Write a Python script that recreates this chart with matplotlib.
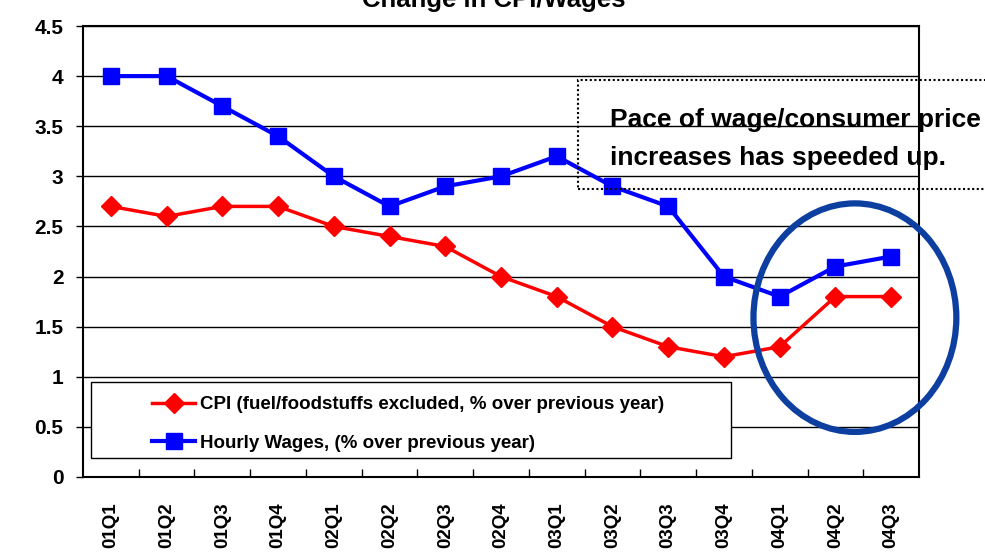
import matplotlib
matplotlib.use("Agg")
import matplotlib.pyplot as plt
from matplotlib.patches import Ellipse, Rectangle
import numpy as np

quarters = ["01Q1", "01Q2", "01Q3", "01Q4", "02Q1", "02Q2", "02Q3", "02Q4",
            "03Q1", "03Q2", "03Q3", "03Q4", "04Q1", "04Q2", "04Q3"]
cpi = [2.7, 2.6, 2.7, 2.7, 2.5, 2.4, 2.3, 2.0, 1.8, 1.5, 1.3, 1.2, 1.3, 1.8, 1.8]
wages = [4.0, 4.0, 3.7, 3.4, 3.0, 2.7, 2.9, 3.0, 3.2, 2.9, 2.7, 2.0, 1.8, 2.1, 2.2]
y_ticks = [0, 0.5, 1, 1.5, 2, 2.5, 3, 3.5, 4, 4.5]
y_labels = ["0", "0.5", "1", "1.5", "2", "2.5", "3", "3.5", "4", "4.5"]

fam = ["Liberation Sans", "DejaVu Sans"]

fig = plt.figure(figsize=(9.85, 5.52), dpi=100)
ax = fig.add_axes([83 / 985, 1 - 477 / 552, 836 / 985, 451 / 552])

x = np.arange(len(quarters))
l1, = ax.plot(x, cpi, color="#FF0000", lw=2.5, marker="D", ms=10,
              label="CPI (fuel/foodstuffs excluded, % over previous year)", zorder=4)
l2, = ax.plot(x, wages, color="#0000FF", lw=3, marker="s", ms=12,
              label="Hourly Wages, (% over previous year)", zorder=4)

ax.set_xlim(-0.5, len(quarters) - 0.5)
ax.set_ylim(0, 4.5)
ax.set_yticks(y_ticks)
ax.set_yticklabels(y_labels, fontfamily=fam, fontweight="bold", fontsize=15)
ax.yaxis.grid(True, color="black", lw=1)
ax.set_axisbelow(True)

ax.set_xticks(x)
ax.set_xticklabels(quarters, rotation=90, fontfamily=fam, fontweight="bold", fontsize=13.5)
ax.set_xticks(np.arange(0.5, len(quarters) - 1, 1), minor=True)
ax.tick_params(axis="x", which="major", length=0, pad=18)
ax.tick_params(axis="x", which="minor", direction="in", length=6, width=1)
ax.tick_params(axis="y", direction="out", length=5, width=1, pad=9)
for s in ax.spines.values():
    s.set_linewidth(1.5)
    s.set_color("black")

# legend box
ax.add_patch(Rectangle((8 / 836, 19 / 451), 640 / 836, 76 / 451, transform=ax.transAxes,
                       facecolor="white", edgecolor="black", lw=1, zorder=5))
leg = ax.legend(handles=[l1, l2], loc="upper left", bbox_to_anchor=(56 / 836, 94 / 451),
                frameon=False, handlelength=2.3, handletextpad=0.25, labelspacing=1.15,
                borderpad=0.2, prop={"family": fam, "weight": "bold", "size": 13.5})
leg.set_zorder(6)

# circle round the last quarters
ax.add_patch(Ellipse((13.35, 1.59), 3.64, 2.28, fill=False, edgecolor="#0D3FA0",
                     lw=4.5, clip_on=False, zorder=6))

# dotted note box
fig.patches.append(Rectangle((578 / 985, 1 - 189 / 552), 0.5, 109 / 552,
                             transform=fig.transFigure, fill=False, edgecolor="black",
                             lw=1.5, linestyle=(0, (1, 1.2)), zorder=7))
fig.text(610 / 985, 1 - 127 / 552, "Pace of wage/consumer price",
         ha="left", va="baseline", fontfamily=fam, fontweight="bold", fontsize=19, zorder=8)
fig.text(610 / 985, 1 - 165 / 552, "increases has speeded up.",
         ha="left", va="baseline", fontfamily=fam, fontweight="bold", fontsize=19, zorder=8)

fig.text(494 / 985, 1 - 7 / 552, "Change in CPI/Wages", ha="center", va="baseline",
         fontfamily=fam, fontweight="bold", fontsize=18.5)

fig.savefig("out.png", dpi=100)
